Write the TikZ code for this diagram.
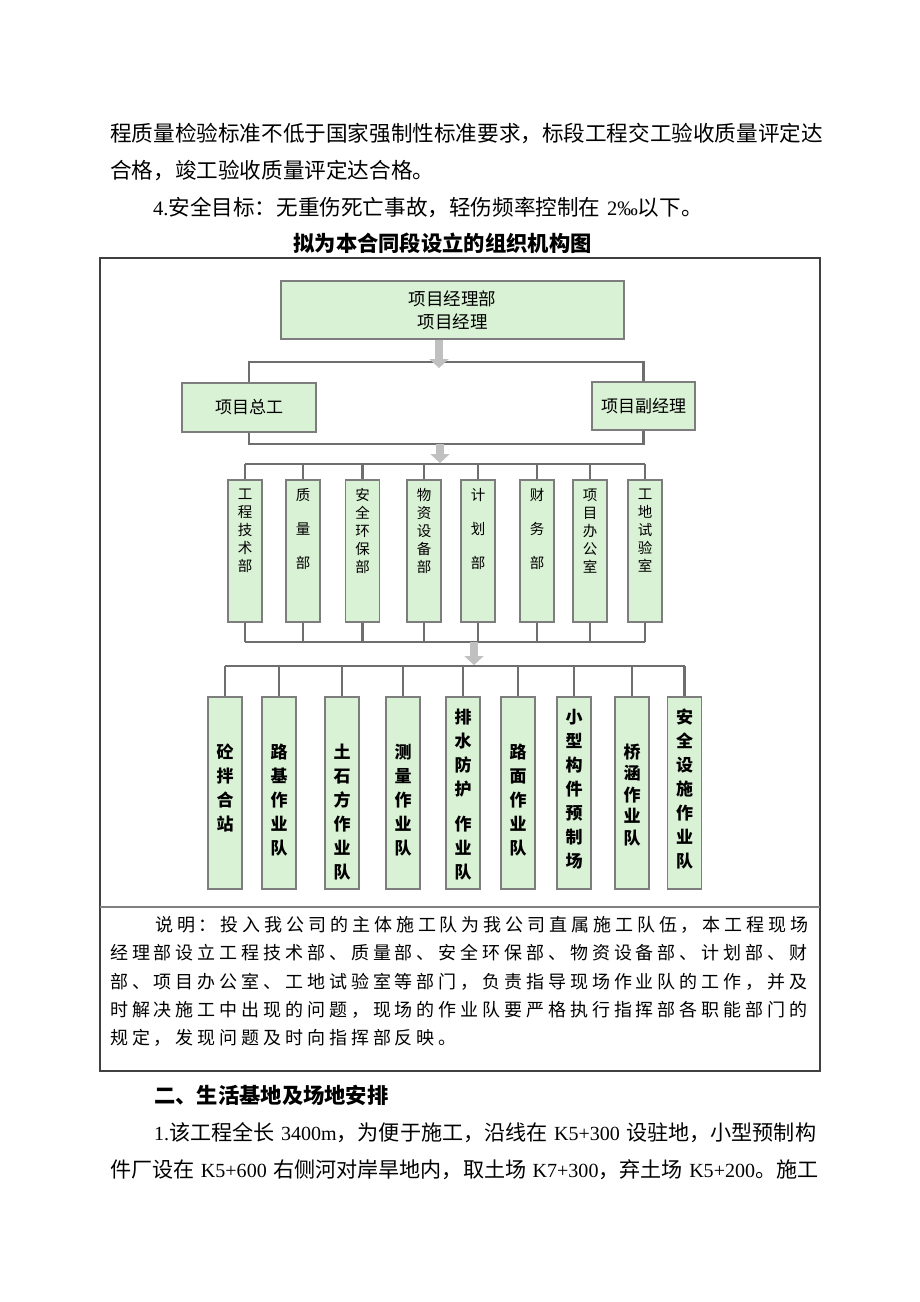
\documentclass[tikz,border=0pt]{standalone}
\usepackage{fontspec}
\setmainfont{Noto Sans CJK SC}
\newfontfamily\latin[Scale=0.95]{Liberation Serif}
\newfontfamily\descfont[LetterSpace=21.7]{Noto Sans CJK SC}
\usetikzlibrary{arrows.meta}
\definecolor{boxfill}{RGB}{217,241,212}
\definecolor{boxline}{RGB}{125,125,125}
\definecolor{connline}{RGB}{110,110,110}
\definecolor{arrowgray}{RGB}{192,192,192}
\newcommand\halfsp{\hspace{0.3em}}
\begin{document}
\begin{tikzpicture}[x=1pt,y=-1pt,
	box/.style={draw=boxline,fill=boxfill,line width=1.5pt,inner sep=0pt},
	conn/.style={draw=connline,line width=2.2pt},
	blockarrow/.style={draw=arrowgray,line width=8pt,-{Triangle[width=19pt,length=9pt]}},
	bodytext/.style={anchor=west,inner sep=0pt,font=\fontsize{21.6}{26}\selectfont},
	mixtext/.style={anchor=west,inner sep=0pt,font=\fontsize{21.1}{26}\selectfont},
	desctext/.style={anchor=west,inner sep=0pt,font=\descfont\fontsize{18}{24}\selectfont},
	dtext/.style={anchor=north,inner sep=0pt,align=center,font=\fontsize{14.5}{18}\selectfont},
	ttext/.style={anchor=north,inner sep=0pt,align=center,font=\fontsize{17}{24}\selectfont\bfseries},
	frame/.style={draw=black!75,line width=1.4pt}]
			\fill[white] (0,0) rectangle (920,1302);
			\useasboundingbox (0,0) rectangle (920,1302);
			% running text above the chart
			\node[bodytext] (p1) at (110,133) {程质量检验标准不低于国家强制性标准要求，标段工程交工验收质量评定达};
			\node[bodytext] (p2) at (110,170) {合格，竣工验收质量评定达合格。};
			\node[bodytext] (p3) at (153,207) {{\latin 4.}安全目标：无重伤死亡事故，轻伤频率控制在\halfsp{\latin 2‰}以下。};
			\node[inner sep=0pt,font=\fontsize{21.3}{26}\selectfont\bfseries] (title) at (442.5,243) {拟为本合同段设立的组织机构图};
			% frame
			\draw[frame] (100,258) rectangle (820,1071);
			\draw[draw=gray,line width=2pt] (100,907) -- (820,907);
			% boxes
			\node[box,minimum width=343pt,minimum height=58pt,align=center,font=\fontsize{17.5}{23}\selectfont] (pm) at (452.5,310) {项目经理部\\项目经理};
			\node[box,minimum width=134pt,minimum height=49pt,font=\fontsize{17}{23}\selectfont] (zg) at (249,407.5) {项目总工};
			\node[box,minimum width=103pt,minimum height=48pt,font=\fontsize{17}{23}\selectfont] (fj) at (643.5,406) {项目副经理};
			\foreach \x/\txt [count=\i] in {245/{工\\程\\技\\术\\部},303/{质\\[16pt]量\\[16pt]部},362.5/{安\\全\\环\\保\\部},424/{物\\资\\设\\备\\部},478/{计\\[16pt]划\\[16pt]部},537/{财\\[16pt]务\\[16pt]部},590/{项\\目\\办\\公\\室},645/{工\\地\\试\\验\\室}}{
				\node[box,minimum width=34pt,minimum height=142pt] (d\i) at (\x,551) {};
				\node[dtext] (dl\i) at ([yshift=-9pt]d\i.north) {\txt};
			}
			\foreach \x/\dy/\txt [count=\i] in {225/47.5/{砼\\拌\\合\\站},279/47.5/{路\\基\\作\\业\\队},342/47.5/{土\\石\\方\\作\\业\\队},403/47.5/{测\\量\\作\\业\\队},463/12.5/{排\\水\\防\\护\\[11pt]作\\业\\队},518/47.5/{路\\面\\作\\业\\队},574/12.5/{小\\型\\构\\件\\预\\制\\场},632/47.5/{桥\\[-2.5pt]涵\\[-2.5pt]作\\[-2.5pt]业\\[-2.5pt]队},684.5/12.5/{安\\全\\设\\施\\作\\业\\队}}{
				\node[box,minimum width=34pt,minimum height=192pt] (t\i) at (\x,793) {};
				\node[ttext] (tl\i) at ([yshift=-\dy pt]t\i.north) {\txt};
			}
			% connectors
			\coordinate (bus1) at (0,362);
			\coordinate (bus2) at (0,444);
			\coordinate (bus3) at (0,464);
			\coordinate (bus4) at (0,642);
			\coordinate (bus5) at (0,666);
			\draw[conn] (zg.north) |- (fj.north |- bus1) -- (fj.north);
			\draw[conn] (zg.south) |- (fj.south |- bus2) -- (fj.south);
			\draw[conn] (d1.north |- bus3) -- (d8.north |- bus3);
			\draw[conn] (d1.south |- bus4) -- (d8.south |- bus4);
			\foreach \i in {1,...,8}{
				\draw[conn] (d\i.north) -- (d\i.north |- bus3);
				\draw[conn] (d\i.south) -- (d\i.south |- bus4);
			}
			\draw[conn] (t1.north |- bus5) -- (t9.north |- bus5);
			\foreach \i in {1,...,9}
				\draw[conn] (t\i.north) -- (t\i.north |- bus5);
			\coordinate (a1) at (439,368);
			\coordinate (a2) at (440,463);
			\coordinate (a3) at (474,665);
			\draw[blockarrow] (pm.south -| a1) -- (a1);
			\draw[blockarrow] (a2 |- bus2) -- (a2);
			\draw[blockarrow] (a3 |- bus4) -- (a3);
			% note in the lower part of the frame
			\node[desctext] (n1) at (155,925) {说明：投入我公司的主体施工队为我公司直属施工队伍，本工程现场};
			\node[desctext] (n2) at (110,953) {经理部设立工程技术部、质量部、安全环保部、物资设备部、计划部、财};
			\node[desctext] (n3) at (110,982) {部、项目办公室、工地试验室等部门，负责指导现场作业队的工作，并及};
			\node[desctext] (n4) at (110,1010) {时解决施工中出现的问题，现场的作业队要严格执行指挥部各职能部门的};
			\node[desctext] (n5) at (110,1038) {规定，发现问题及时向指挥部反映。};
			% running text below the chart
			\node[inner sep=0pt,anchor=west,font=\fontsize{21.3}{26}\selectfont\bfseries] (h2) at (154,1095) {二、生活基地及场地安排};
			\node[mixtext] (q1) at (154,1133) {{\latin 1.}该工程全长\halfsp{\latin 3400m}，为便于施工，沿线在\halfsp{\latin K5+300}\halfsp{}设驻地，小型预制构};
			\node[mixtext] (q2) at (110,1170) {件厂设在\halfsp{\latin K5+600}\halfsp{}右侧河对岸旱地内，取土场\halfsp{\latin K7+300}，弃土场\halfsp{\latin K5+200}。施工};
\end{tikzpicture}
\end{document}
